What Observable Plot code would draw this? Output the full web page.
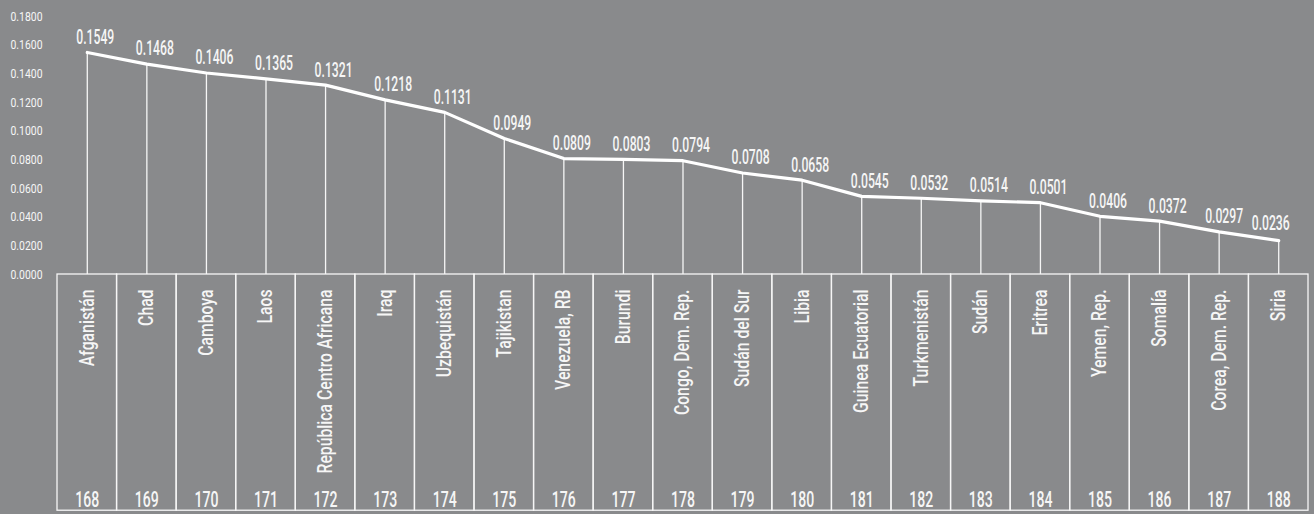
<!DOCTYPE html>
<html><head><meta charset="utf-8">
<script src="https://cdn.jsdelivr.net/npm/d3@7"></script>
<script src="https://cdn.jsdelivr.net/npm/@observablehq/plot@0.6"></script>
<style>
html,body{margin:0;padding:0;background:#898a8c;overflow:hidden;}
</style></head><body><div id="chart"></div>
<script>
const countries = ["Afganistán","Chad","Camboya","Laos","República Centro Africana","Iraq","Uzbequistán","Tajikistan","Venezuela, RB","Burundi","Congo, Dem. Rep.","Sudán del Sur","Libia","Guinea Ecuatorial","Turkmenistán","Sudán","Eritrea","Yemen, Rep.","Somalía","Corea, Dem. Rep.","Siria"];
const ranks = [168,169,170,171,172,173,174,175,176,177,178,179,180,181,182,183,184,185,186,187,188];
const values = [0.1549,0.1468,0.1406,0.1365,0.1321,0.1218,0.1131,0.0949,0.0809,0.0803,0.0794,0.0708,0.0658,0.0545,0.0532,0.0514,0.0501,0.0406,0.0372,0.0297,0.0236];
const yTicks = [0,0.02,0.04,0.06,0.08,0.10,0.12,0.14,0.16,0.18];

const data = countries.map((c, i) => ({country: c, rank: ranks[i], value: values[i]}));
const last = data.length - 1;
const font = 'Roboto,"DejaVu Sans",sans-serif';
const fmt = d3.format(".4f");
const ink = "#f6f6f6";
const valueText = {x: "country", y: "value", text: d => fmt(d.value), fontSize: 20, fontWeight: 500, fill: ink};

const chart = Plot.plot({
  width: 1314, height: 514,
  marginLeft: 57, marginRight: 6, marginTop: 16, marginBottom: 240,
  style: {background: "#898a8c", color: ink, fontFamily: font, overflow: "visible"},
  x: {domain: countries, padding: 0, round: false, axis: null},
  y: {domain: [0, 0.18], axis: null},
  marks: [
    Plot.axisY(yTicks, {tickSize: 0, tickPadding: 47, textAnchor: "start", tickFormat: fmt, fontSize: 13, fill: ink, label: null}),
    Plot.barY(data, {x: "country", y1: 0, y2: -0.1648, fill: "none", stroke: ink, strokeWidth: 1.3}),
    Plot.ruleX(data, {x: "country", y1: 0, y2: "value", stroke: ink, strokeWidth: 1.3}),
    Plot.line(data, {x: "country", y: "value", stroke: "#ffffff", strokeWidth: 3.2, strokeLinejoin: "round"}),
    Plot.text(data, {...valueText, filter: (d, i) => i < last - 1, dx: 8, dy: -15}),
    Plot.text(data, {...valueText, filter: (d, i) => i === last - 1, dx: 5, dy: -15}),
    Plot.text(data, {...valueText, filter: (d, i) => i === last, dx: -8, dy: -17}),
    Plot.text(data, {x: "country", y: 0, text: "country", rotate: -90, textAnchor: "end", dy: 15, fontSize: 20, fontWeight: 500, fill: ink}),
    Plot.text(data, {x: "country", y: 0, text: "rank", dy: 225, fontSize: 22, fontWeight: 500, fill: ink})
  ]
});
document.getElementById("chart").append(chart);

// condense glyphs horizontally to mimic the narrow typeface of the original
function squeeze(groups, refText, target) {
  const texts = groups.flatMap(g => Array.from(g.querySelectorAll("text")));
  const ref = texts.find(t => t.textContent === refText);
  if (!ref) return;
  const k = target / ref.getComputedTextLength();
  for (const t of texts) {
    t.setAttribute("textLength", (t.getComputedTextLength() * k).toFixed(2));
    t.setAttribute("lengthAdjust", "spacingAndGlyphs");
  }
}
const tg = Array.from(chart.querySelectorAll('g[aria-label="text"]'));
squeeze(Array.from(chart.querySelectorAll('g[aria-label="y-axis tick label"]')), "0.1800", 32);
squeeze([tg[0], tg[1], tg[2]], "0.1549", 38);
squeeze([tg[3]], "República Centro Africana", 184);
squeeze([tg[4]], "168", 24);
</script></body></html>
